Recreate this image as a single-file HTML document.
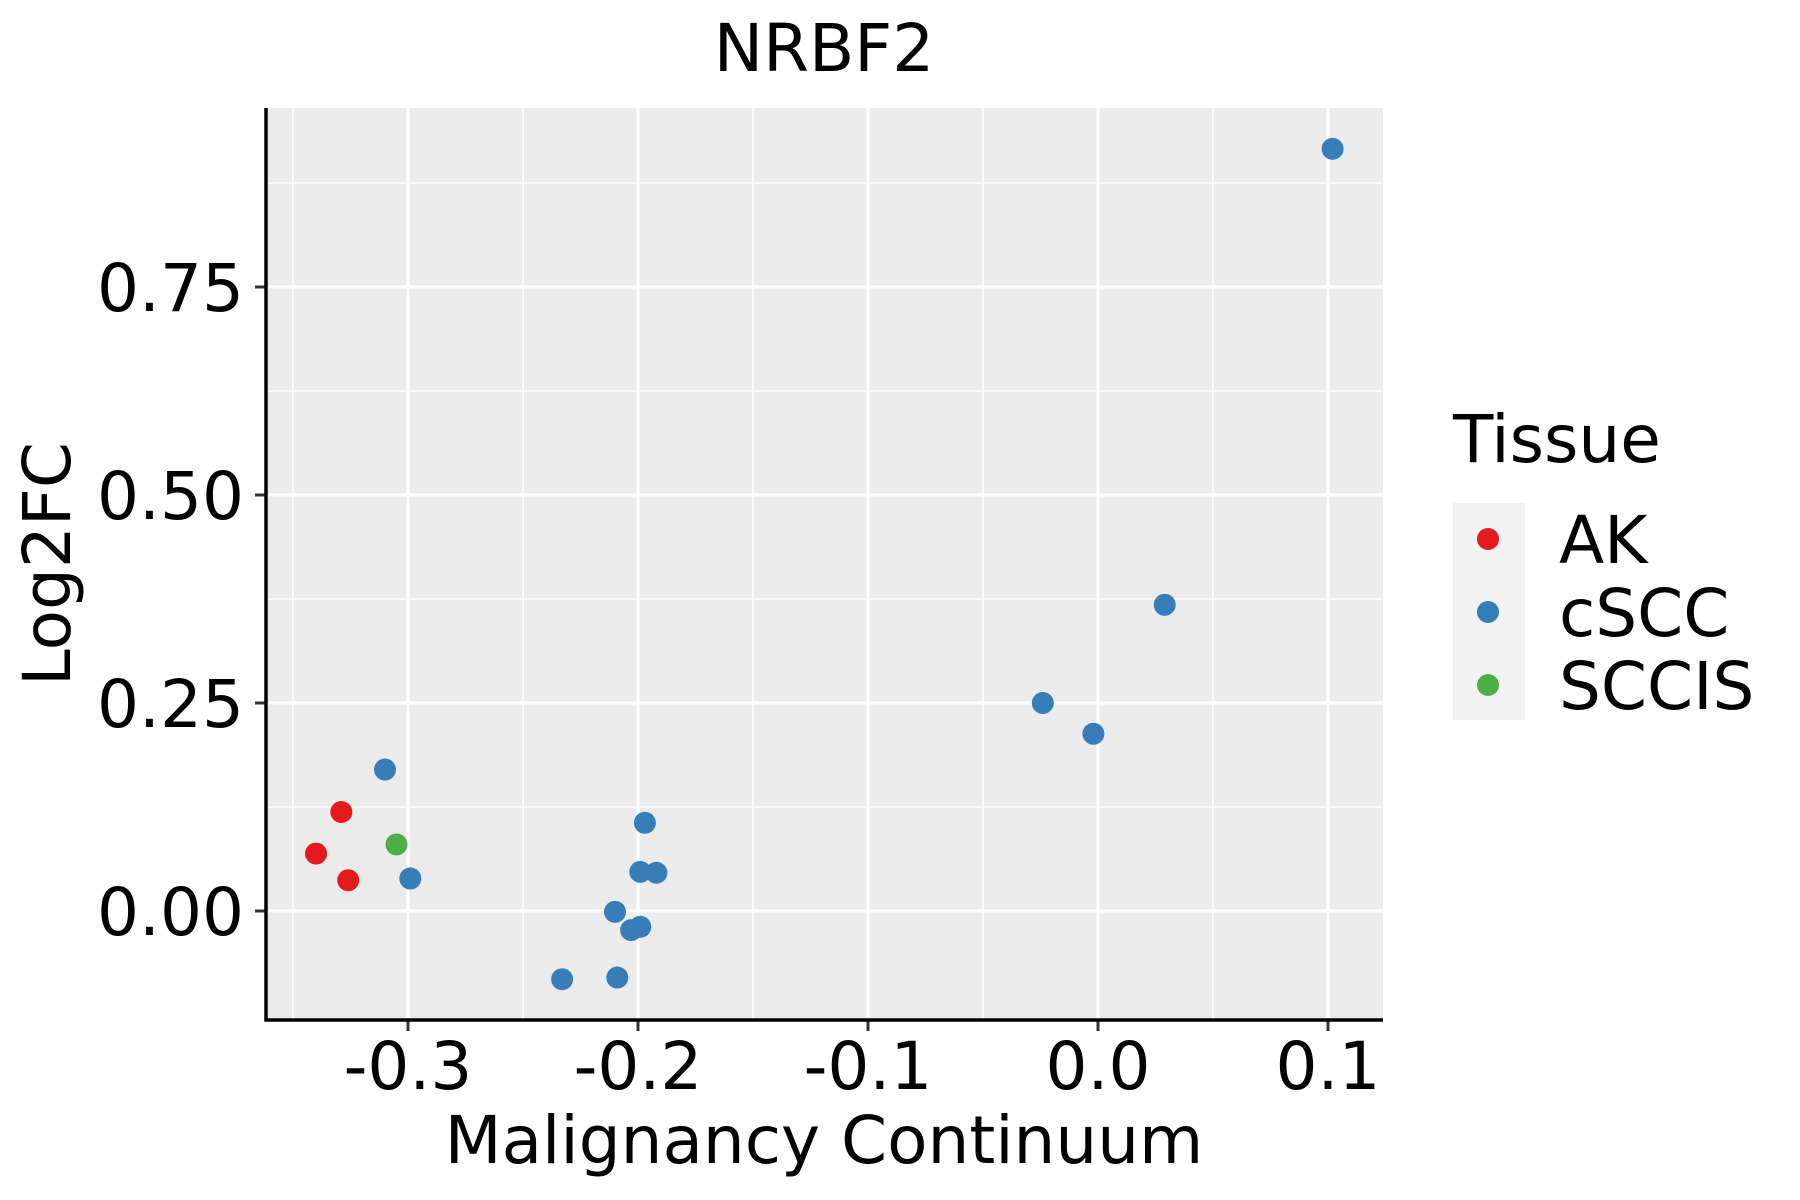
<!DOCTYPE html>
<html><head><meta charset="utf-8"><style>
html,body{margin:0;padding:0;background:#fff;}
svg{display:block;font-family:"DejaVu Sans","Liberation Sans",sans-serif;}
</style></head><body>
<svg id="chart" width="1800" height="1200" viewBox="0 0 1800 1200" xmlns="http://www.w3.org/2000/svg">
<text x="824" y="71" font-size="66" text-anchor="middle">NRBF2</text>
<rect x="266" y="108" width="1117" height="912" fill="#ebebeb"/>
<g id="grid"></g>
<g id="axes"></g>
<g id="points"></g>
<text x="824" y="1163" font-size="66" text-anchor="middle">Malignancy Continuum</text>
<text transform="translate(70,564) rotate(-90)" font-size="66" text-anchor="middle">Log2FC</text>
<g>
<text x="1453" y="462" font-size="66">Tissue</text>
<rect x="1453" y="503" width="72" height="217" fill="#f2f2f2"/>
<g id="legend-entries"></g>
</g>
</svg>
<script>
const xs=[0.102,0.029,-0.024,-0.002,-0.310,-0.329,-0.340,-0.326,-0.305,-0.299,-0.197,-0.199,-0.192,-0.210,-0.199,-0.203,-0.233,-0.209];
const ys=[0.916,0.368,0.250,0.213,0.170,0.119,0.069,0.037,0.080,0.039,0.106,0.047,0.046,-0.001,-0.019,-0.023,-0.082,-0.080];
const groups=["cSCC","cSCC","cSCC","cSCC","cSCC","AK","AK","AK","SCCIS","cSCC","cSCC","cSCC","cSCC","cSCC","cSCC","cSCC","cSCC","cSCC"];
const categories=["AK","cSCC","SCCIS"];
const colors={"AK":"#e41a1c","cSCC":"#377eb8","SCCIS":"#4daf4a"};
const xTicks=[-0.3,-0.2,-0.1,0.0,0.1];
const xTickLabels=["-0.3","-0.2","-0.1","0.0","0.1"];
const yTicks=[0,0.25,0.5,0.75];
const yTickLabels=["0.00","0.25","0.50","0.75"];
const xMinor=[-0.35,-0.25,-0.15,-0.05,0.05];
const yMinor=[0.125,0.375,0.625,0.875];

const L=266,R=1383,T=108,B=1020;
const sx=v=>1098+v*2300;
const sy=v=>911-v*832;
const NS="http://www.w3.org/2000/svg";
function mk(tag,attrs,parent){const e=document.createElementNS(NS,tag);for(const k in attrs)e.setAttribute(k,attrs[k]);parent.appendChild(e);return e;}
const grid=document.getElementById('grid'),axes=document.getElementById('axes'),pts=document.getElementById('points'),leg=document.getElementById('legend-entries');
xMinor.forEach(v=>{const e=mk('line',{x1:sx(v),x2:sx(v),y1:T,y2:B,stroke:'#fff','stroke-width':1.5},grid);

});
yMinor.forEach(v=>{const e=mk('line',{x1:L,x2:R,y1:sy(v),y2:sy(v),stroke:'#fff','stroke-width':1.5},grid);

});
xTicks.forEach((v,i)=>{const g=mk('line',{x1:sx(v),x2:sx(v),y1:T,y2:B,stroke:'#fff','stroke-width':3},grid);


const t=mk('line',{x1:sx(v),x2:sx(v),y1:B,y2:B+11,stroke:'#333','stroke-width':3},axes);


const l=mk('text',{x:sx(v),y:1089,'font-size':66,'text-anchor':'middle'},axes);l.textContent=xTickLabels[i];

});
yTicks.forEach((v,i)=>{const g=mk('line',{x1:L,x2:R,y1:sy(v),y2:sy(v),stroke:'#fff','stroke-width':3},grid);


const t=mk('line',{x1:L-11,x2:L,y1:sy(v),y2:sy(v),stroke:'#333','stroke-width':3},axes);


const l=mk('text',{x:244,y:sy(v)+24,'font-size':66,'text-anchor':'end'},axes);l.textContent=yTickLabels[i];

});
const ax=mk('path',{d:`M${L} ${T} V${B} H${R}`,fill:'none',stroke:'#000','stroke-width':3.5},axes);


xs.forEach((v,i)=>{const c=mk('circle',{cx:sx(v),cy:sy(ys[i]),r:11,fill:colors[groups[i]]},pts);

});
categories.forEach((c,i)=>{const y=539+i*73;
const d=mk('circle',{cx:1488,cy:y,r:11,fill:colors[c]},leg);


const t=mk('text',{x:1559,y:y+24,'font-size':66},leg);t.textContent=c;

});
</script>
</body></html>
